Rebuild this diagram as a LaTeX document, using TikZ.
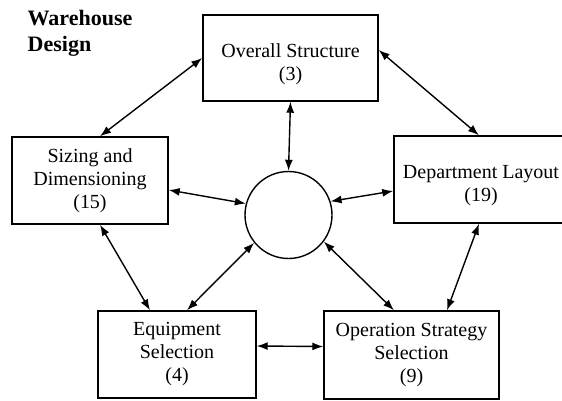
\documentclass[tikz,border=0pt]{standalone}
\usepackage{fontspec}
\setmainfont{Liberation Serif}
\usetikzlibrary{arrows.meta}

\begin{document}
\begin{tikzpicture}[x=0.5pt, y=-0.5pt, line width=0.7pt,
  topic/.style={draw, align=center, inner sep=2pt, font=\fontsize{10}{11.5}\selectfont},
  link/.style={{Latex[length=5.5pt,width=4pt]}-{Latex[length=5.5pt,width=4pt]}}]

\useasboundingbox (0,0) rectangle (562,401);

\node [anchor=north west, inner sep=0pt, align=left, font=\fontsize{11}{13}\selectfont\bfseries] (title) at (27,10) {Warehouse\\Design};

\node [topic, minimum width=87.5pt, minimum height=43pt] (overall) at (290.5,58) {\rule{0pt}{13pt}Overall Structure\\(3)};
\node [topic, minimum width=78pt, minimum height=43.5pt] (sizing) at (90,180.5) {Sizing and\\Dimensioning\\(15)};
\node [topic, minimum width=87pt, minimum height=43.5pt] (dept) at (481,179.5) {\rule{0pt}{13pt}Department Layout\\(19)};
\node [topic, minimum width=79pt, minimum height=43.5pt] (equip) at (177,354.5) {Equipment\\Selection\\(4)};
\node [topic, minimum width=87.5pt, minimum height=44pt] (oper) at (411.5,355) {Operation Strategy\\Selection\\(9)};
\node [draw, circle, minimum size=43.5pt, inner sep=0pt] (hub) at (288.5,215) {};

\draw [link] (overall.west) -- ([xshift=5pt]sizing.north);
\draw [link] ([yshift=4pt]overall.east) -- ([xshift=-1pt]dept.north);
\draw [link] (overall.south) -- (hub.north);
\draw [link] ([yshift=-4.75pt]sizing.east) -- (hub.165);
\draw [link] ([yshift=-5.75pt]dept.west) -- (hub.18);
\draw [link] ([xshift=5pt]sizing.south) -- ([xshift=-13.5pt]equip.north);
\draw [link] ([xshift=5pt]equip.north) -- (hub.219);
\draw [link] (hub.323) -- ([xshift=-8.75pt]oper.north);
\draw [link] ([xshift=-1pt]dept.south) -- ([xshift=17.75pt]oper.north);
\draw [link] ([yshift=4.25pt]equip.east) -- ([yshift=4.25pt]oper.west);

\end{tikzpicture}
\end{document}
